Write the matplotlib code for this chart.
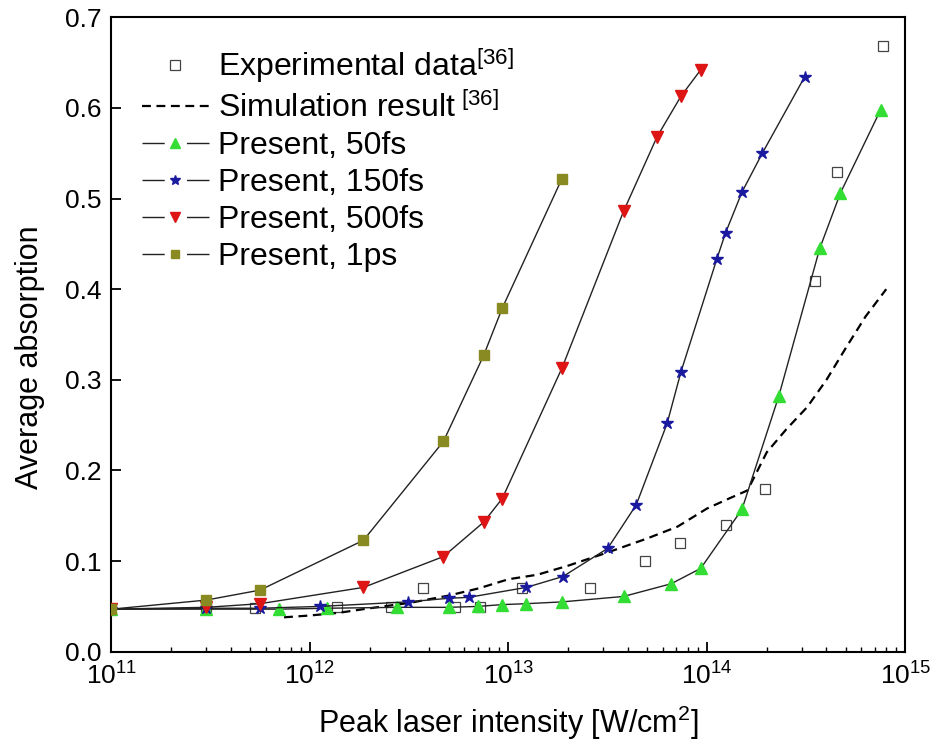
import matplotlib
matplotlib.use("Agg")
import matplotlib.pyplot as plt
from matplotlib.lines import Line2D
from matplotlib.legend_handler import HandlerTuple
from matplotlib.ticker import LogLocator, FormatStrFormatter

plt.rcParams['font.family'] = ['Liberation Sans', 'DejaVu Sans']
plt.rcParams['mathtext.fontset'] = 'custom'
plt.rcParams['mathtext.rm'] = 'Liberation Sans'
plt.rcParams['mathtext.it'] = 'Liberation Sans:italic'

# experimental data [36]
exp_x = [3e11, 5.3e11, 1.37e12, 2.57e12, 3.7e12, 5.4e12, 7.2e12, 1.17e13, 2.57e13,
         4.9e13, 7.3e13, 1.24e14, 1.95e14, 3.5e14, 4.5e14, 7.7e14]
exp_y = [0.048, 0.048, 0.049, 0.049, 0.070, 0.049, 0.049, 0.070, 0.070,
         0.100, 0.120, 0.140, 0.179, 0.409, 0.529, 0.668]

# simulation result [36]
sim_x = [7.4e11, 1e12, 1.4e12, 2e12, 3.2e12, 5e12, 7.1e12, 1e13, 1.4e13, 2e13,
         3.2e13, 5e13, 7.1e13, 1e14, 1.26e14, 1.6e14, 2e14, 2.5e14, 3.2e14,
         4e14, 5e14, 6.3e14, 8e14]
sim_y = [0.038, 0.040, 0.043, 0.048, 0.054, 0.062, 0.070, 0.080, 0.085, 0.095,
         0.110, 0.125, 0.138, 0.158, 0.168, 0.178, 0.220, 0.245, 0.270,
         0.300, 0.335, 0.370, 0.400]

# present, 50 fs
fs50_x = [1e11, 3e11, 7e11, 1.22e12, 2.75e12, 5e12, 7e12, 9.3e12, 1.22e13, 1.86e13,
          3.8e13, 6.6e13, 9.3e13, 1.5e14, 2.3e14, 3.7e14, 4.7e14, 7.5e14]
fs50_y = [0.047, 0.047, 0.047, 0.048, 0.049, 0.049, 0.050, 0.052, 0.053, 0.055,
          0.061, 0.075, 0.092, 0.157, 0.282, 0.445, 0.506, 0.598]

# present, 150 fs
fs150_x = [1e11, 3e11, 5.6e11, 1.12e12, 3.1e12, 5e12, 6.3e12, 1.23e13, 1.88e13,
           3.16e13, 4.4e13, 6.3e13, 7.4e13, 1.12e14, 1.24e14, 1.5e14, 1.9e14, 3.1e14]
fs150_y = [0.047, 0.048, 0.048, 0.050, 0.055, 0.059, 0.060, 0.071, 0.083,
           0.114, 0.162, 0.252, 0.309, 0.433, 0.462, 0.507, 0.550, 0.634]

# present, 500 fs
fs500_x = [1e11, 3e11, 5.6e11, 1.86e12, 4.7e12, 7.5e12, 9.3e12, 1.86e13, 3.8e13,
           5.6e13, 7.4e13, 9.3e13]
fs500_y = [0.047, 0.049, 0.053, 0.071, 0.105, 0.143, 0.169, 0.313, 0.486,
           0.568, 0.613, 0.642]

# present, 1 ps
ps1_x = [1e11, 3e11, 5.6e11, 1.86e12, 4.7e12, 7.5e12, 9.3e12, 1.86e13]
ps1_y = [0.047, 0.057, 0.068, 0.123, 0.232, 0.327, 0.379, 0.522]

fig = plt.figure(figsize=(9.33, 7.5), dpi=100)
ax = fig.add_axes([0.1195, 0.131, 0.851, 0.846])

h_exp, = ax.plot(exp_x, exp_y, ls='none', marker='s', ms=6.5, mfc='white',
                 mec='#444444', mew=0.9, zorder=2)
h_sim, = ax.plot(sim_x, sim_y, ls=(0, (4, 2.5)), color='black', lw=1.6, zorder=3)

styles = [
    (fs50_x, fs50_y, '^', 8.5, '#33dd33'),
    (fs150_x, fs150_y, '*', 9, '#1a1aa0'),
    (fs500_x, fs500_y, 'v', 8.5, '#dd1515'),
    (ps1_x, ps1_y, 's', 6.5, '#8a8a22'),
]
present_handles = []
for xs, ys, mk, ms, col in styles:
    ax.plot(xs, ys, color='#222222', lw=1.0, marker=mk, ms=ms,
            mfc=col, mec=col, zorder=4)
    # legend handle: line broken around the symbol
    seg = Line2D([], [], color='#222222', lw=1.0, ls=(0, (16, 16, 17, 100)))
    sym = Line2D([], [], ls='none', marker=mk, ms=ms * 0.85, mfc=col, mec=col)
    present_handles.append((seg, sym))

ax.set_xscale('log')
ax.set_xlim(1e11, 1e15)
ax.set_ylim(0, 0.7)
ax.xaxis.set_major_locator(LogLocator(base=10, numticks=10))
ax.xaxis.set_minor_locator(LogLocator(base=10, subs=range(2, 10), numticks=20))
ax.yaxis.set_major_formatter(FormatStrFormatter('%.1f'))
ax.set_yticks([0, 0.1, 0.2, 0.3, 0.4, 0.5, 0.6, 0.7])

ax.tick_params(which='both', direction='in', top=False, right=False, labelsize=19)
ax.tick_params(which='major', length=7, width=1.3)
ax.tick_params(which='minor', length=3.5, width=1.0)
ax.tick_params(axis='x', pad=8)
ax.tick_params(axis='y', pad=7)
for sp in ax.spines.values():
    sp.set_linewidth(1.5)

ax.set_xlabel('Peak laser intensity [W/cm$^2$]', fontsize=22, labelpad=10)
ax.set_ylabel('Average absorption', fontsize=22)
ax.yaxis.set_label_coords(-0.084, 0.464)

handles = [h_exp, h_sim] + present_handles
labels = ['Experimental data$^{[36]}$', 'Simulation result$^{\\ [36]}$',
          'Present, 50fs', 'Present, 150fs', 'Present, 500fs', 'Present, 1ps']
ax.legend(handles, labels, loc='upper left', bbox_to_anchor=(0.022, 0.975),
          frameon=False, fontsize=23, handlelength=2.1, handletextpad=0.3,
          labelspacing=0.22, numpoints=1, borderaxespad=0,
          handler_map={tuple: HandlerTuple(ndivide=1, pad=0)})

fig.savefig('out.png', dpi=100)
